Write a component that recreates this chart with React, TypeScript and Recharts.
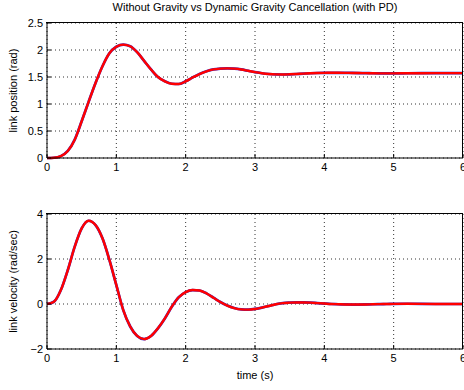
import React from "react";
import { LineChart, Line, XAxis, YAxis, CartesianGrid } from "recharts";

// time samples (s)
const time = [
  0, 0.1, 0.2, 0.3, 0.4, 0.5, 0.6, 0.7, 0.8, 0.9, 1.0, 1.1, 1.2, 1.3, 1.4,
  1.5, 1.6, 1.7, 1.8, 1.9, 2.0, 2.1, 2.2, 2.3, 2.4, 2.5, 2.6, 2.7, 2.8, 2.9,
  3.0, 3.1, 3.2, 3.3, 3.4, 3.5, 3.6, 3.7, 3.8, 3.9, 4.0, 4.1, 4.2, 4.3, 4.4,
  4.5, 4.6, 4.7, 4.8, 4.9, 5.0, 5.2, 5.4, 5.6, 5.8, 6.0,
];

// link position (rad)
const position = [
  0, 0.005, 0.035, 0.13, 0.34, 0.68, 1.04, 1.39, 1.7, 1.94, 2.06, 2.1, 2.07,
  1.96, 1.8, 1.64, 1.5, 1.42, 1.375, 1.37, 1.42, 1.49, 1.555, 1.605, 1.64,
  1.655, 1.66, 1.655, 1.64, 1.615, 1.59, 1.57, 1.556, 1.548, 1.546, 1.55,
  1.556, 1.563, 1.569, 1.574, 1.577, 1.578, 1.578, 1.577, 1.575, 1.573, 1.571,
  1.569, 1.568, 1.568, 1.568, 1.569, 1.57, 1.571, 1.571, 1.571,
];

// link velocity (rad/sec)
const velocity = [
  0, 0.1, 0.62, 1.51, 2.55, 3.36, 3.7, 3.51, 2.92, 1.96, 0.84, -0.27, -1.0,
  -1.42, -1.56, -1.42, -1.08, -0.64, -0.12, 0.3, 0.53, 0.62, 0.6, 0.47, 0.28,
  0.09, -0.07, -0.18, -0.24, -0.25, -0.22, -0.16, -0.09, -0.01, 0.04, 0.06,
  0.07, 0.07, 0.06, 0.04, 0.02, 0, -0.01, -0.02, -0.025, -0.025, -0.02, -0.01,
  -0.005, 0, 0.005, 0.01, 0.005, 0, 0, 0,
];

const xTicks = [0, 1, 2, 3, 4, 5, 6];
const posTicks = [0, 0.5, 1, 1.5, 2, 2.5];
const velTicks = [-2, 0, 2, 4];

const data = time.map((t, i) => ({
  t,
  pos: position[i],
  vel: velocity[i],
}));

const font = "'Liberation Sans', Arial, Helvetica, sans-serif";
const tickStyle = { fontSize: 11, fill: "#000", fontFamily: font };
const fmt = (v: number) => (v < 0 ? "\u2212" + Math.abs(v) : String(v));

const Panel = ({
  dataKey,
  ticks,
  domain,
  label,
  height,
  margin,
  xLabel,
}: {
  dataKey: string;
  ticks: number[];
  domain: [number, number];
  label: string;
  height: number;
  margin: { top: number; right: number; bottom: number; left: number };
  xLabel?: string;
}) => (
  <LineChart width={464} height={height} data={data} margin={margin}>
    <CartesianGrid stroke="#333" strokeDasharray="1 3" />
    <XAxis
      dataKey="t"
      type="number"
      domain={[0, 6]}
      ticks={xTicks}
      tick={tickStyle}
      tickSize={-4}
      tickMargin={9}
      stroke="#000"
      height={20}
      interval={0}
      label={
        xLabel
          ? {
              value: xLabel,
              position: "bottom",
              offset: 2,
              style: { fontSize: 11, fill: "#000", fontFamily: font },
            }
          : undefined
      }
    />
    <YAxis
      type="number"
      domain={domain}
      ticks={ticks}
      tick={tickStyle}
      tickFormatter={fmt}
      tickSize={-4}
      tickMargin={8}
      stroke="#000"
      width={47}
      interval={0}
      label={{
        value: label,
        angle: -90,
        position: "center",
        dx: -10,
        style: { fontSize: 11, fill: "#000", fontFamily: font },
      }}
    />
    <Line
      type="monotone"
      dataKey={dataKey}
      stroke="#2a2ad0"
      strokeWidth={2.7}
      dot={false}
      isAnimationActive={false}
    />
    <Line
      type="monotone"
      dataKey={dataKey}
      stroke="#ff0000"
      strokeWidth={2.4}
      dot={false}
      isAnimationActive={false}
    />
  </LineChart>
);

// frame drawn round each plot area (MATLAB "box on")
const Frame = ({ top, height }: { top: number; height: number }) => (
  <div
    style={{
      position: "absolute",
      left: 46,
      top: top - 1,
      width: 417,
      height: height + 1,
      borderTop: "1px solid #000",
      borderRight: "1px solid #000",
      boxSizing: "border-box",
      pointerEvents: "none",
    }}
  />
);

export default function App() {
  return (
    <div
      style={{
        position: "absolute",
        left: 0,
        top: 0,
        width: 464,
        height: 390,
        background: "#fff",
        fontFamily: font,
      }}
    >
      <div
        style={{
          position: "absolute",
          top: 1,
          left: 47,
          width: 416,
          textAlign: "center",
          fontSize: 11,
          color: "#000",
        }}
      >
        Without Gravity vs Dynamic Gravity Cancellation (with PD)
      </div>
      <div style={{ position: "absolute", left: 0, top: 0 }}>
        <Panel
          dataKey="pos"
          ticks={posTicks}
          domain={[0, 2.5]}
          label="link position (rad)"
          height={185}
          margin={{ top: 23, right: 1, bottom: 7, left: 0 }}
        />
      </div>
      <div style={{ position: "absolute", left: 0, top: 190 }}>
        <Panel
          dataKey="vel"
          ticks={velTicks}
          domain={[-2, 4]}
          label="link velocity (rad/sec)"
          height={200}
          margin={{ top: 24, right: 1, bottom: 21, left: 0 }}
          xLabel="time (s)"
        />
      </div>
      <Frame top={23} height={135} />
      <Frame top={214} height={135} />
    </div>
  );
}
